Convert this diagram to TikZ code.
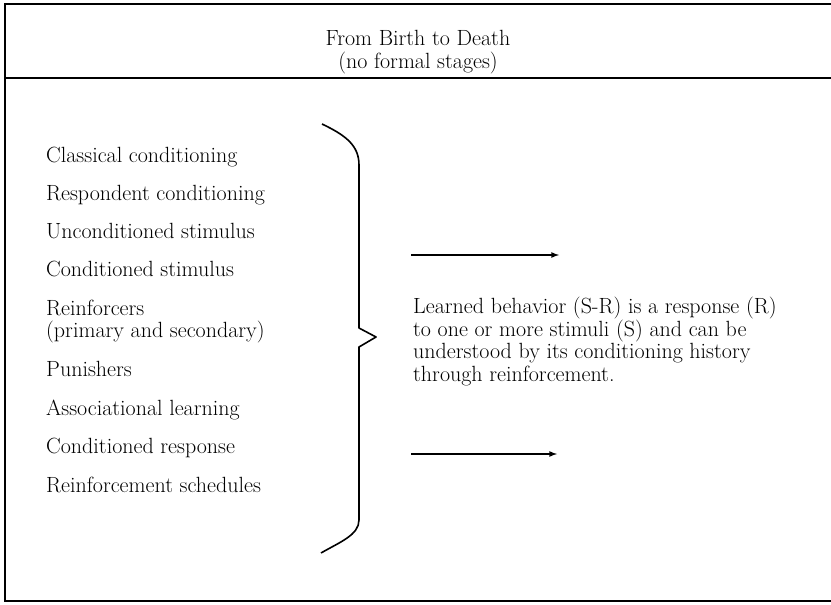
\documentclass[tikz,border=0pt]{standalone}
\usetikzlibrary{positioning}
\tikzset{>=latex}
\newcommand{\bodyfont}{\fontsize{22}{22.5}\selectfont}
\tikzset{
    item/.style={anchor=base west, inner sep=0pt, font=\bodyfont},
    frameline/.style={black, line width=1.8pt},
    link/.style={black, line width=1.6pt, ->}
}

\begin{document}
\begin{tikzpicture}[x=1pt, y=-1pt]
    \useasboundingbox (0,0) rectangle (831,605);

    % frame and header row
    \draw[frameline] (831,4) -- (5,4) -- (5,601) -- (831,601);
    \draw[frameline] (5,78) -- (831,78);

    \node[align=center, inner sep=0pt, font=\bodyfont] (head) at (418,52) {From Birth to Death\\(no formal stages)};

    % list of terms
    \node[item] (cls) at (46,162) {Classical conditioning};
    \node[item] (resp) at (46,200) {Respondent conditioning};
    \node[item] (ucs) at (46,238) {Unconditioned stimulus};
    \node[item] (cs) at (46,276) {Conditioned stimulus};
    \node[item] (reinf) at (46,315) {Reinforcers};
    \node[item] (reinfb) at (46,337) {(primary and secondary)};
    \node[item] (pun) at (46,376) {Punishers};
    \node[item] (assoc) at (46,415) {Associational learning};
    \node[item] (cr) at (46,453) {Conditioned response};
    \node[item] (sched) at (46,492) {Reinforcement schedules};

    % brace
    \draw[black, line width=1.6pt, line join=round] (322,124) .. controls (345,135) and (359,145) .. (359,165) -- (359,328) -- (376,337) -- (359,347) -- (359,520) .. controls (359,535) and (340,542) .. (321,553);

    % arrows and summary text
    \coordinate (up1) at (411,255);
    \coordinate (up2) at (559,255);
    \coordinate (lo1) at (411,454);
    \coordinate (lo2) at (557,454);
    \draw[link] (up1) -- (up2);
    \draw[link] (lo1) -- (lo2);

    \node[anchor=north west, align=left, inner sep=0pt, font=\bodyfont] (learned) at (413,297) {Learned behavior (S-R) is a response (R)\\to one or more stimuli (S) and can be\\understood by its conditioning history\\through reinforcement.};

\end{tikzpicture}
\end{document}
